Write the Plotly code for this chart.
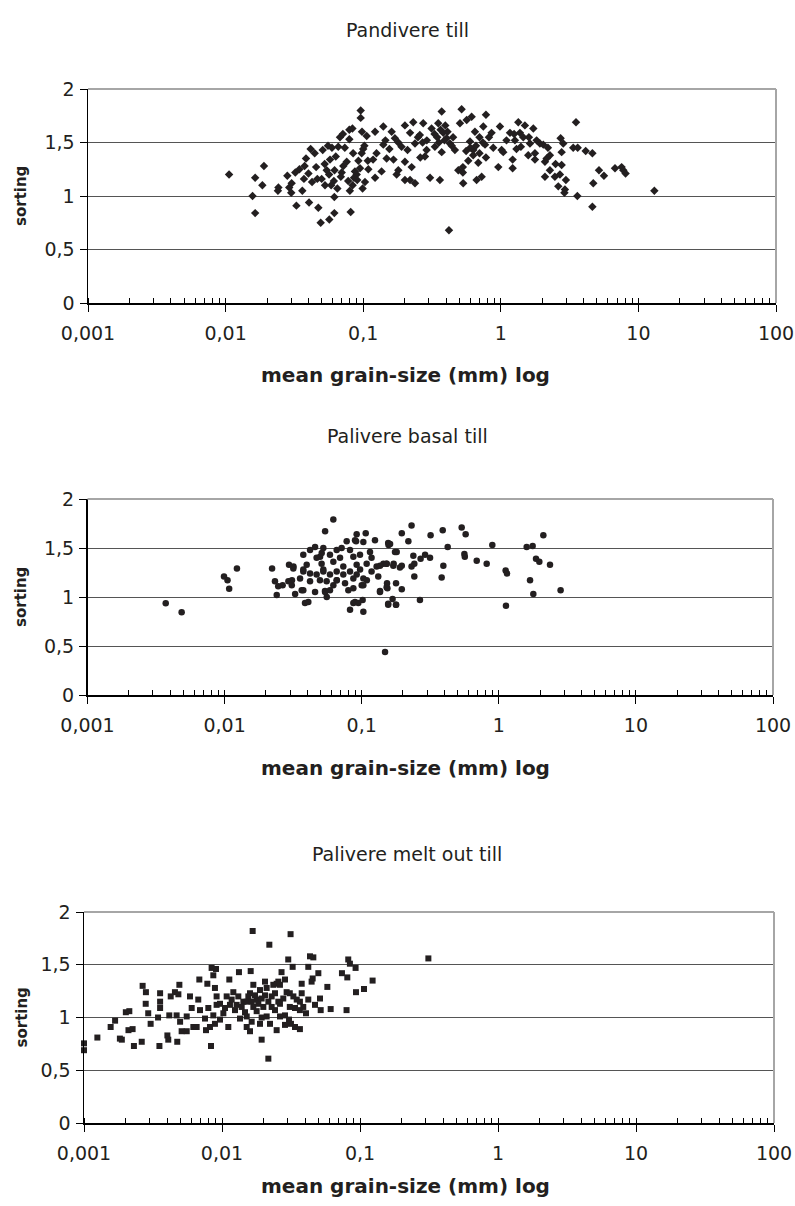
import plotly.graph_objects as go

# ---------------- data ----------------
titles = ["Pandivere till", "Palivere basal till", "Palivere melt out till"]
x_tick_vals = [0.001, 0.01, 0.1, 1, 10, 100]
x_tick_text = ["0,001", "0,01", "0,1", "1", "10", "100"]
y_tick_vals = [0, 0.5, 1, 1.5, 2]
y_tick_text = ["0", "0,5", "1", "1,5", "2"]
x_title = "mean grain-size (mm) log"
y_title = "sorting"

pand_x = [0.0106, 0.0157, 0.0164, 0.0164, 0.0185, 0.0190, 0.0242, 0.0240, 0.0281, 0.0290, 0.0300, 0.0302,
          0.0327, 0.0321, 0.0344, 0.0361, 0.0371, 0.0384, 0.0404, 0.0415, 0.0400, 0.0444, 0.0472, 0.0464,
          0.0491, 0.0499, 0.0508, 0.0528, 0.0543, 0.0567, 0.0555, 0.0574, 0.0593, 0.0617, 0.0617, 0.0619,
          0.0649, 0.0659, 0.0678, 0.0698, 0.0717, 0.0759, 0.0793, 0.0793, 0.0811, 0.0800, 0.0838, 0.0857,
          0.0897, 0.0923, 0.0959, 0.0959, 0.098, 0.100, 0.099, 0.103, 0.106, 0.109,
          0.0871, 0.0845, 0.0905, 0.0735, 0.0688, 0.0778, 0.0948, 0.0612, 0.0585, 0.0632, 0.0712, 0.0835,
          0.0975, 0.108, 0.102, 0.0565, 0.0525, 0.0455, 0.0425, 0.0375,
          0.122, 0.140, 0.125, 0.118, 0.136, 0.122, 0.140, 0.161, 0.170, 0.166, 0.148, 0.175, 0.180, 0.190,
          0.201, 0.201, 0.201, 0.219, 0.219, 0.231, 0.238, 0.225, 0.238, 0.258, 0.273, 0.289, 0.281, 0.306,
          0.314, 0.332, 0.351, 0.372, 0.372, 0.361, 0.382, 0.404, 0.420, 0.427, 0.464, 0.491, 0.505, 0.519,
          0.533, 0.565, 0.597, 0.614, 0.631, 0.649, 0.667, 0.686, 0.726, 0.746, 0.768, 0.780, 0.857, 0.881,
          0.959, 0.986, 1.014, 1.042, 1.166, 1.219, 1.219, 1.267, 1.340, 1.377, 1.456, 1.497, 1.583, 1.629,
          1.723, 1.771, 1.771, 1.821, 1.924, 2.036, 2.094, 2.153, 2.275, 2.094, 2.275, 2.472, 2.617, 2.721,
          2.768, 2.768, 2.69, 2.924, 2.973, 2.844,
          0.345, 0.355, 0.365, 0.39, 0.41, 0.395, 0.33, 0.45, 0.44, 0.29, 0.27, 0.25, 0.21, 0.18, 0.155,
          0.145, 0.26, 0.60, 0.63, 0.66, 0.70, 0.74, 0.78, 0.82, 0.70, 0.56, 0.58, 1.10, 1.25, 1.40, 1.30,
          1.60, 2.2, 2.5, 0.53, 0.53,
          3.52, 3.36, 3.62, 3.60, 4.14, 4.63, 4.70, 4.63, 5.17, 5.62, 6.76, 7.55, 7.77, 8.07, 13.06, 2.90]
pand_y = [1.20, 1.00, 1.17, 0.84, 1.10, 1.28, 1.08, 1.05, 1.19, 1.08, 1.03, 1.12,
          0.91, 1.22, 1.25, 1.05, 1.16, 1.35, 0.94, 1.44, 1.21, 1.40, 0.89, 1.16,
          0.75, 1.16, 1.43, 1.10, 1.24, 0.78, 1.47, 1.34, 1.45, 0.99, 0.84, 1.24,
          1.07, 1.46, 1.55, 1.22, 1.28, 1.32, 1.53, 1.62, 0.85, 1.05, 1.10, 1.17,
          1.20, 1.33, 1.80, 1.73, 1.60, 1.44, 1.07, 1.13, 1.56, 1.25,
          1.23, 1.40, 1.15, 1.45, 1.18, 1.14, 1.26, 1.14, 1.10, 1.37, 1.58, 1.63,
          1.40, 1.33, 1.47, 1.20, 1.30, 1.27, 1.13, 1.28,
          1.60, 1.65, 1.40, 1.34, 1.23, 1.17, 1.48, 1.60, 1.54, 1.34, 1.35, 1.20, 1.24, 1.46,
          1.66, 1.15, 1.32, 1.59, 1.15, 1.69, 1.12, 1.27, 1.49, 1.57, 1.68, 1.43, 1.37, 1.17,
          1.63, 1.46, 1.68, 1.79, 1.41, 1.15, 1.59, 1.54, 0.68, 1.49, 1.43, 1.24, 1.68, 1.81,
          1.12, 1.71, 1.51, 1.74, 1.43, 1.60, 1.15, 1.31, 1.18, 1.65, 1.48, 1.76, 1.59, 1.45,
          1.27, 1.65, 1.43, 1.41, 1.59, 1.34, 1.26, 1.52, 1.69, 1.59, 1.55, 1.66, 1.38, 1.49,
          1.63, 1.40, 1.34, 1.52, 1.49, 1.48, 1.32, 1.35, 1.38, 1.18, 1.24, 1.18, 1.09, 1.54,
          1.41, 1.29, 1.20, 1.06, 1.15, 1.49,
          1.55, 1.50, 1.62, 1.52, 1.60, 1.66, 1.58, 1.55, 1.47, 1.52, 1.50, 1.55, 1.43, 1.50, 1.44,
          1.52, 1.36, 1.45, 1.38, 1.47, 1.40, 1.50, 1.36, 1.55, 1.55, 1.42, 1.33, 1.52, 1.58, 1.46, 1.44,
          1.55, 1.45, 1.30, 1.22, 1.27,
          1.69, 1.45, 1.45, 1.00, 1.42, 1.40, 1.12, 0.90, 1.24, 1.19, 1.26, 1.27, 1.24, 1.21, 1.05, 1.03]

basal_x = [0.00372, 0.00486, 0.0099, 0.0105, 0.0108, 0.0123, 0.0222, 0.0233, 0.0240, 0.0246, 0.0265, 0.0295,
           0.0310, 0.0318, 0.0327, 0.0365, 0.0375, 0.0386, 0.0408, 0.0420, 0.0457, 0.0457, 0.0541, 0.0525,
           0.0556, 0.0541, 0.0497, 0.0511, 0.0587, 0.0621, 0.0658, 0.0822, 0.0869, 0.091, 0.1028, 0.107,
           0.0973, 0.109, 0.125, 0.136, 0.148, 0.156, 0.156, 0.153, 0.175, 0.178, 0.171,
           0.0919, 0.0777, 0.0894, 0.1028, 0.0525, 0.0657, 0.0714, 0.0822, 0.0375, 0.0469, 0.0587, 0.0695,
           0.0869, 0.0972, 0.115, 0.118, 0.0397, 0.0510, 0.0621, 0.0734, 0.0919, 0.1087, 0.1285, 0.144,
           0.0375, 0.0420, 0.0469, 0.0525, 0.0587, 0.0657, 0.0734, 0.0822, 0.0919, 0.1028, 0.118, 0.132,
           0.152, 0.0355, 0.0420, 0.0496, 0.0555, 0.0657, 0.0756, 0.0869, 0.100, 0.0317, 0.0292, 0.0309,
           0.0375, 0.0540, 0.0621, 0.0799, 0.0869, 0.1028, 0.0894, 0.0945, 0.1016, 0.157, 0.152,
           0.136, 0.152, 0.170, 0.161, 0.180, 0.196, 0.219, 0.231, 0.196, 0.190, 0.154, 0.178, 0.196, 0.156,
           0.168, 0.178, 0.136, 0.238, 0.231, 0.242, 0.242, 0.266, 0.269, 0.290, 0.315, 0.318, 0.383, 0.394,
           0.390, 0.424, 0.536, 0.573, 0.561, 0.565, 0.690, 0.816, 0.897, 1.122, 1.148, 1.128, 1.597, 1.766,
           1.690, 1.786, 1.868, 1.975, 2.113, 2.363, 2.824]
basal_y = [0.935, 0.844, 1.21, 1.17, 1.085, 1.29, 1.29, 1.16, 1.02, 1.11, 1.12, 1.33,
           1.17, 1.31, 1.03, 1.07, 1.28, 0.94, 0.95, 1.48, 1.51, 1.05, 1.67, 1.28,
           1.00, 1.05, 1.41, 1.45, 1.07, 1.79, 1.17, 0.87, 0.94, 1.57, 0.85, 1.65,
           1.28, 1.17, 1.58, 1.05, 0.44, 1.55, 0.92, 1.14, 1.46, 0.92, 1.34,
           1.64, 1.57, 1.58, 1.56, 1.50, 1.48, 1.50, 1.48, 1.43, 1.40, 1.43, 1.40,
           1.41, 1.43, 1.46, 1.40, 1.33, 1.34, 1.36, 1.31, 1.33, 1.34, 1.31, 1.34,
           1.26, 1.24, 1.23, 1.26, 1.23, 1.26, 1.23, 1.26, 1.23, 1.19, 1.26, 1.21,
           1.34, 1.19, 1.16, 1.17, 1.16, 1.17, 1.14, 1.19, 1.12, 1.29, 1.16, 1.12,
           1.07, 1.06, 1.12, 1.07, 1.09, 1.12, 0.95, 0.94, 0.97, 1.53, 1.10,
           1.32, 1.34, 1.32, 1.54, 1.46, 1.65, 1.57, 1.73, 1.32, 1.30, 1.09, 1.14, 1.08, 0.93,
           0.98, 0.92, 1.06, 1.42, 1.31, 1.34, 1.21, 0.97, 1.39, 1.43, 1.40, 1.63, 1.20, 1.32,
           1.68, 1.51, 1.71, 1.64, 1.44, 1.41, 1.37, 1.34, 1.53, 1.27, 1.24, 0.91, 1.51, 1.52,
           1.17, 1.03, 1.39, 1.36, 1.63, 1.33, 1.07]

melt_x = [0.00100, 0.00100, 0.00125, 0.00156, 0.00168, 0.00182, 0.00188, 0.00201, 0.00213, 0.00210, 0.00225,
          0.00230, 0.00262, 0.00266, 0.00281, 0.00280, 0.00292, 0.00304, 0.00352, 0.00356, 0.00356, 0.00356,
          0.00344, 0.00402, 0.00408, 0.00415, 0.00425, 0.00456, 0.00474, 0.00491, 0.00483, 0.00469, 0.00497,
          0.00510, 0.00555, 0.00555, 0.00586, 0.00603, 0.00620, 0.00655, 0.00673, 0.00685, 0.00693, 0.00753,
          0.00766, 0.00783, 0.00796, 0.00818, 0.00832, 0.00841, 0.00905, 0.00865, 0.00889, 0.00914, 0.00914,
          0.00865, 0.00889, 0.00967, 0.01023, 0.01081, 0.01130, 0.01111, 0.01142, 0.01208, 0.01242, 0.01313,
          0.01327, 0.01350, 0.01428, 0.01468, 0.01510, 0.01596, 0.01614, 0.01596, 0.01687, 0.01687, 0.01783,
          0.01885, 0.01938, 0.01993, 0.02049, 0.02107, 0.02167, 0.02203, 0.02228, 0.02291, 0.02421, 0.02489,
          0.01668,
          0.00967, 0.01051, 0.01175, 0.01277, 0.01389, 0.01510, 0.01552, 0.01641, 0.01734, 0.01833, 0.01938,
          0.02049, 0.02167, 0.02291, 0.02421, 0.02560, 0.02107, 0.02355, 0.02560, 0.01783, 0.01938, 0.01510,
          0.01641, 0.01885, 0.02632, 0.02489,
          0.0314, 0.0270, 0.0302, 0.0325, 0.0286, 0.0263, 0.0294, 0.0310, 0.0278, 0.0263, 0.0329, 0.0348,
          0.0367, 0.0378, 0.0378, 0.0388, 0.0406, 0.0367, 0.0338, 0.0310, 0.0286, 0.0306, 0.0316, 0.0286,
          0.0338, 0.0367, 0.0422, 0.0434, 0.0459, 0.0422, 0.0454, 0.0446, 0.0499, 0.0472, 0.0513, 0.0519,
          0.0580, 0.0613, 0.0740, 0.0822, 0.0845, 0.0929, 0.0809, 0.0799, 0.0935, 0.1069, 0.1234, 0.3129]
melt_y = [0.755, 0.69, 0.81, 0.91, 0.97, 0.80, 0.79, 1.05, 1.06, 0.88, 0.89,
          0.73, 0.77, 1.30, 1.24, 1.13, 1.04, 0.94, 0.73, 1.23, 1.15, 1.09,
          1.00, 0.83, 0.79, 1.02, 1.20, 1.24, 0.77, 1.31, 1.22, 1.02, 0.96,
          0.87, 0.87, 1.01, 1.20, 1.09, 0.91, 0.91, 1.17, 1.36, 1.07, 0.99,
          0.88, 1.32, 1.09, 0.91, 0.73, 1.47, 1.46, 1.40, 1.28, 1.20, 1.12,
          1.02, 0.94, 0.98, 1.04, 1.20, 1.36, 0.91, 1.12, 1.24, 1.07, 1.20,
          1.43, 0.99, 1.15, 1.05, 0.91, 0.87, 1.44, 1.23, 1.31, 1.10, 1.17,
          1.26, 0.79, 1.10, 1.34, 1.01, 0.61, 1.69, 0.94, 1.20, 1.07, 1.32,
          1.82,
          1.13, 1.09, 1.17, 1.12, 1.10, 1.15, 1.20, 1.15, 1.21, 1.13, 1.18,
          1.21, 1.15, 1.10, 1.23, 1.15, 1.28, 1.31, 1.34, 1.06, 1.00, 1.01,
          0.96, 0.94, 1.01, 0.88,
          1.79, 1.43, 1.55, 1.48, 1.36, 1.31, 1.24, 1.23, 1.18, 1.13, 1.20, 1.17,
          1.15, 1.32, 1.23, 1.10, 1.04, 1.07, 1.09, 1.10, 1.02, 0.98, 0.94, 0.93,
          0.91, 0.89, 1.17, 1.58, 1.57, 1.48, 1.37, 1.34, 1.42, 1.12, 1.18, 1.07,
          1.29, 1.08, 1.42, 1.55, 1.51, 1.47, 1.38, 1.07, 1.24, 1.27, 1.35, 1.56]

series = [(pand_x, pand_y, "diamond", 6.5), (basal_x, basal_y, "circle", 6.5), (melt_x, melt_y, "square", 6)]

# ---------------- layout (pixel geometry of 795x1206 page) ----------------
W, H = 795, 1206
panels = [  # left, right, top, bottom (px)
    (88, 776, 89, 303),
    (87.5, 773, 499, 695),
    (84, 774, 912, 1123),
]
title_y_px = [30, 436, 854]
xtitle_y_px = [375, 768, 1186]

FONT = "DejaVu Sans, Liberation Sans, Arial, sans-serif"
INK = "#231f20"

fig = go.Figure()
layout = dict(
    width=W, height=H, margin=dict(l=0, r=0, t=0, b=0, autoexpand=False),
    paper_bgcolor="white", plot_bgcolor="white", showlegend=False,
    font=dict(family=FONT, color=INK, size=19),
    separators=", ",
)
annotations = []
shapes = []

for i, ((xs, ys, sym, sz), (l, r, t, b)) in enumerate(zip(series, panels)):
    n = "" if i == 0 else str(i + 1)
    fig.add_trace(go.Scatter(
        x=xs, y=ys, mode="markers", xaxis="x" + n, yaxis="y" + n,
        marker=dict(symbol=sym, size=sz, color=INK, line=dict(width=0)),
        hoverinfo="skip", cliponaxis=False,
    ))
    layout["xaxis" + n] = dict(
        type="log", range=[-3, 2], domain=[l / W, r / W], anchor="y" + n, automargin=False,
        tickmode="array", tickvals=x_tick_vals, ticktext=x_tick_text,
        ticks="outside", ticklen=7, tickwidth=1, tickcolor="black",
        showline=True, linecolor="black", linewidth=1.5,
        showgrid=False, zeroline=False, ticklabelstandoff=6, ticklabeloverflow="allow",
        tickfont=dict(family=FONT, size=19, color=INK),
        minor=dict(ticks="inside", ticklen=5, tickwidth=1, tickcolor="black", dtick="D1", showgrid=False),
    )
    layout["yaxis" + n] = dict(
        range=[0, 2], domain=[1 - b / H, 1 - t / H], anchor="x" + n, automargin=False,
        tickmode="array", tickvals=y_tick_vals, ticktext=y_tick_text,
        ticks="outside", ticklen=7, tickwidth=1, tickcolor="black",
        showline=True, linecolor="black", linewidth=1.5,
        showgrid=True, gridcolor="#555555", gridwidth=1, zeroline=False,
        tickfont=dict(family=FONT, size=19, color=INK), ticklabelstandoff=1,
    )
    # gray frame (top and right)
    shapes.append(dict(type="line", xref="x" + n + " domain", yref="y" + n + " domain",
                       x0=0, x1=1, y0=1, y1=1, line=dict(color="#a6a6a6", width=2), layer="above"))
    shapes.append(dict(type="line", xref="x" + n + " domain", yref="y" + n + " domain",
                       x0=1, x1=1, y0=0, y1=1, line=dict(color="#a6a6a6", width=2), layer="above"))
    annotations.append(dict(text=titles[i], x=407 / W, y=1 - title_y_px[i] / H, xref="paper", yref="paper",
                            showarrow=False, xanchor="center", yanchor="middle",
                            font=dict(family=FONT, size=19, color=INK)))
    annotations.append(dict(text="<b>" + x_title + "</b>", x=405 / W, y=1 - xtitle_y_px[i] / H,
                            xref="paper", yref="paper", showarrow=False, xanchor="center", yanchor="middle",
                            font=dict(family=FONT, size=20, color=INK)))
    annotations.append(dict(text="<b>" + y_title + "</b>", x=21 / W, y=1 - (t + b) / 2 / H,
                            xref="paper", yref="paper", showarrow=False, xanchor="center", yanchor="middle",
                            textangle=-90, font=dict(family=FONT, size=15, color=INK)))

layout["annotations"] = annotations
layout["shapes"] = shapes
fig.update_layout(**layout)
fig.write_html(
    "out.html",
    config={"displayModeBar": False, "staticPlot": True},
    post_script="document.body.style.margin='0';document.body.style.overflow='hidden';",
)
